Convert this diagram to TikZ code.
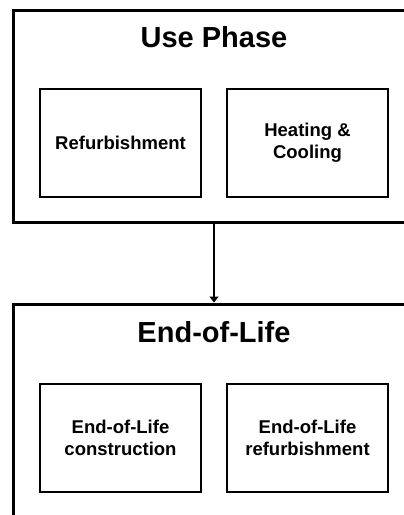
\documentclass[tikz,border=0pt]{standalone}
\usepackage{fontspec}
\setmainfont{Liberation Sans}
\usetikzlibrary{arrows.meta}
\begin{document}
\begin{tikzpicture}[x=1pt,y=1pt,
  phase/.style={draw,line width=3pt,minimum width=402pt,inner sep=0pt},
  sub/.style={draw,line width=1.1pt,minimum width=161pt,minimum height=108pt,align=center,font=\fontsize{18.5}{22.5}\selectfont\bfseries},
  ttl/.style={font=\fontsize{29}{34}\selectfont\bfseries,inner sep=0pt},
  conn/.style={line width=2pt,-{Triangle[length=6pt,width=9pt]}}]
\useasboundingbox (0,0) rectangle (404,-515);
\clip (0,0) rectangle (404,-515);
\node[phase,minimum height=212pt] (use) at (214,-116) {};
\node[phase,minimum height=226pt] (eol) at (214,-417) {};
\node[ttl] (usettl) at (214,-37) {Use Phase};
\node[ttl] (eolttl) at (214,-332) {End-of-Life};
\node[sub] (refurb) at (120.5,-143) {Refurbishment};
\node[sub] (heat) at (307.5,-143) {Heating \&\\Cooling};
\node[sub] (eolc) at (120.5,-438) {End-of-Life\\construction};
\node[sub] (eolr) at (307.5,-438) {End-of-Life\\refurbishment};
\draw[conn] (use.south) -- (eol.north);
\end{tikzpicture}
\end{document}
